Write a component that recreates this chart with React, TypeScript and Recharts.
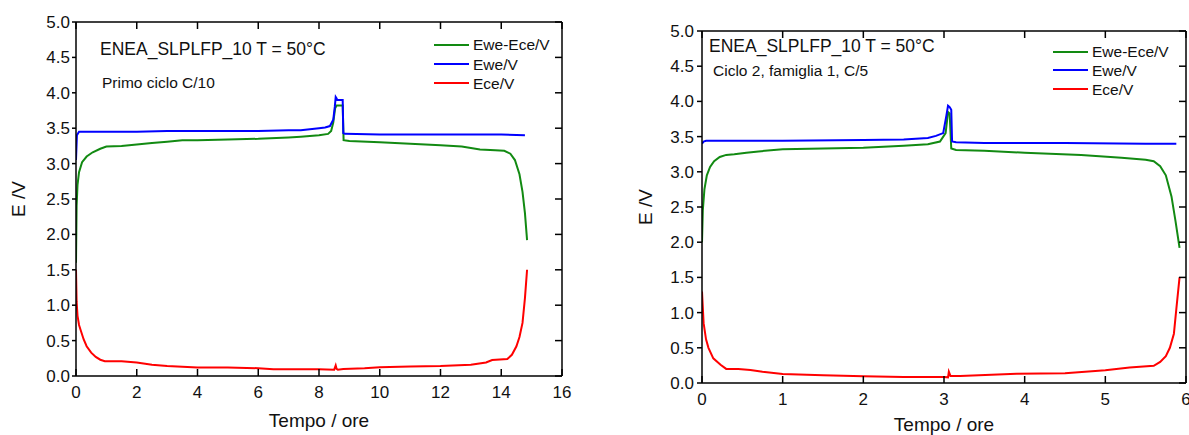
import { LineChart, Line, XAxis, YAxis, Legend } from 'recharts';

const FONT = '"Liberation Sans", Arial, Helvetica, sans-serif';
const GREEN = '#128a12';
const BLUE = '#0000ff';
const RED = '#ff0000';
const INK = '#111';

const yTicks = [0, 0.5, 1, 1.5, 2, 2.5, 3, 3.5, 4, 4.5, 5];
const c1Ticks = [0, 2, 4, 6, 8, 10, 12, 14, 16];
const c2Ticks = [0, 1, 2, 3, 4, 5, 6];
const legendOrder = ['Ewe-Ece/V', 'Ewe/V', 'Ece/V'];

// Primo ciclo C/10
const c1EweT = [0, 0.03, 0.1, 1, 2, 3, 4, 5, 6, 7, 7.4, 8.0, 8.2, 8.36, 8.47, 8.52, 8.55, 8.58, 8.6, 8.78, 8.8, 8.85, 10, 12, 14, 14.78];
const c1EweV = [3.05, 3.4, 3.45, 3.45, 3.45, 3.46, 3.46, 3.46, 3.46, 3.47, 3.47, 3.5, 3.51, 3.53, 3.62, 3.8, 3.94, 3.92, 3.9, 3.9, 3.43, 3.42, 3.41, 3.41, 3.41, 3.4];

const c1DiffT = [0, 0.02, 0.05, 0.1, 0.2, 0.35, 0.55, 0.8, 1.0, 1.5, 2.0, 2.5, 3.0, 3.5, 4, 5, 6, 7, 7.4, 8.0, 8.3, 8.4, 8.47, 8.53, 8.58, 8.78, 8.81, 9, 10, 11, 12, 12.7, 13.3, 13.8, 14.1, 14.3, 14.45, 14.6, 14.7, 14.78, 14.85];
const c1DiffV = [1.6, 2.4, 2.7, 2.88, 3.02, 3.1, 3.16, 3.21, 3.24, 3.25, 3.27, 3.29, 3.31, 3.33, 3.33, 3.34, 3.35, 3.37, 3.38, 3.4, 3.42, 3.46, 3.58, 3.78, 3.82, 3.82, 3.33, 3.32, 3.3, 3.28, 3.26, 3.24, 3.2, 3.19, 3.18, 3.14, 3.05, 2.85, 2.6, 2.3, 1.92];

const c1EceT = [0, 0.02, 0.05, 0.1, 0.16, 0.25, 0.35, 0.5, 0.65, 0.8, 0.95, 1.5, 2.0, 2.5, 3.0, 4.0, 5.0, 6.0, 6.5, 8.0, 8.5, 8.55, 8.58, 8.62, 8.8, 9.5, 10, 11, 12, 13.0, 13.5, 13.7, 14.2, 14.35, 14.5, 14.6, 14.7, 14.78, 14.85];
const c1EceV = [1.5, 1.05, 0.85, 0.72, 0.64, 0.52, 0.42, 0.33, 0.27, 0.23, 0.21, 0.21, 0.19, 0.16, 0.14, 0.12, 0.12, 0.11, 0.095, 0.095, 0.09, 0.15, 0.1, 0.09, 0.1, 0.11, 0.125, 0.135, 0.14, 0.16, 0.19, 0.225, 0.24, 0.3, 0.42, 0.55, 0.75, 1.1, 1.5];

// Ciclo 2, famiglia 1, C/5
const c2EweT = [0, 0.02, 0.05, 1, 2, 2.5, 2.8, 2.9, 2.99, 3.03, 3.05, 3.07, 3.09, 3.1, 3.15, 3.5, 4.5, 5.5, 5.88];
const c2EweV = [3.4, 3.43, 3.44, 3.44, 3.45, 3.46, 3.48, 3.51, 3.55, 3.8, 3.94, 3.92, 3.88, 3.43, 3.42, 3.41, 3.41, 3.4, 3.4];

const c2DiffT = [0, 0.01, 0.03, 0.06, 0.1, 0.15, 0.22, 0.3, 0.4, 0.55, 0.7, 1.0, 1.5, 2.0, 2.5, 2.8, 2.95, 3.02, 3.05, 3.07, 3.09, 3.15, 3.5, 4.0, 4.7, 5.2, 5.5, 5.6, 5.68, 5.75, 5.82, 5.87, 5.92];
const c2DiffV = [2.0, 2.45, 2.75, 2.95, 3.07, 3.15, 3.21, 3.24, 3.25, 3.27, 3.29, 3.32, 3.33, 3.34, 3.37, 3.39, 3.43, 3.55, 3.85, 3.83, 3.33, 3.31, 3.3, 3.27, 3.24, 3.2, 3.17, 3.15, 3.08, 2.95, 2.65, 2.3, 1.92];

const c2EceT = [0, 0.02, 0.05, 0.08, 0.14, 0.23, 0.3, 0.45, 0.6, 0.75, 1.0, 1.5, 2.0, 2.5, 3.0, 3.05, 3.06, 3.08, 3.2, 3.9, 4.5, 5.0, 5.3, 5.6, 5.68, 5.75, 5.8, 5.85, 5.88, 5.92];
const c2EceV = [1.3, 0.85, 0.62, 0.5, 0.35, 0.26, 0.2, 0.198, 0.185, 0.16, 0.127, 0.11, 0.095, 0.085, 0.085, 0.08, 0.16, 0.1, 0.1, 0.13, 0.14, 0.18, 0.22, 0.245, 0.3, 0.38, 0.5, 0.7, 1.05, 1.5];

const zip = (t: number[], v: number[]) => t.map((x, i) => ({ t: x, v: v[i] }));

type Pt = { t: number; v: number };

interface ChartProps {
  width: number;
  margin: { top: number; right: number; left: number; bottom: number };
  yAxisW: number;
  xAxisH: number;
  xMax: number;
  xTicks: number[];
  diff: Pt[];
  ewe: Pt[];
  ece: Pt[];
  legendLeft: number;
  legendTop: number;
  rowH: number;
  xLabelOffset: number;
  yLabelOffset: number;
  yTickSize: number;
  yTickMargin: number;
}

const axisLine = { stroke: '#000', strokeWidth: 1.5 };
// mirror axes on top / right: tick marks only
const blank = () => '';

function LegendRows({ payload, rowH }: { payload?: any[]; rowH: number }) {
  const items = [...(payload || [])].sort((a, b) => legendOrder.indexOf(a.value) - legendOrder.indexOf(b.value));
  return (
    <div style={{ fontFamily: FONT, fontSize: 15.5, color: INK }}>
      {items.map((e) => (
        <div key={e.value} style={{ display: 'flex', alignItems: 'center', height: rowH, lineHeight: 1 }}>
          <span style={{ display: 'inline-block', width: 35, height: 2, background: e.color, marginRight: 4 }} />
          <span>{e.value}</span>
        </div>
      ))}
    </div>
  );
}

function CycleChart(p: ChartProps) {
  return (
    <LineChart width={p.width} height={435} margin={p.margin}>
      <XAxis
        xAxisId="b"
        type="number"
        dataKey="t"
        domain={[0, p.xMax]}
        ticks={p.xTicks}
        interval={0}
        allowDataOverflow
        height={p.xAxisH}
        tickSize={-7}
        tickMargin={17}
        axisLine={axisLine}
        tickLine={axisLine}
        tick={{ fontSize: 17, fill: INK }}
        label={{ value: 'Tempo / ore', position: 'insideBottom', offset: p.xLabelOffset, fontSize: 19, fill: INK }}
      />
      <XAxis
        xAxisId="t"
        orientation="top"
        type="number"
        dataKey="t"
        domain={[0, p.xMax]}
        ticks={p.xTicks}
        interval={0}
        allowDataOverflow
        height={20}
        tickSize={-7}
        axisLine={axisLine}
        tickLine={axisLine}
        tickFormatter={blank}
      />
      <YAxis
        yAxisId="l"
        type="number"
        domain={[0, 5]}
        ticks={yTicks}
        interval={0}
        allowDataOverflow
        width={p.yAxisW}
        tickSize={p.yTickSize}
        tickMargin={p.yTickMargin}
        axisLine={axisLine}
        tickLine={axisLine}
        tick={{ fontSize: 17, fill: INK }}
        tickFormatter={(v: number) => v.toFixed(1)}
        label={{
          value: 'E /V',
          angle: -90,
          position: 'insideLeft',
          offset: p.yLabelOffset,
          fontSize: 19,
          fill: INK,
          style: { textAnchor: 'middle' },
        }}
      />
      <YAxis
        yAxisId="r"
        orientation="right"
        type="number"
        domain={[0, 5]}
        ticks={yTicks}
        interval={0}
        allowDataOverflow
        width={20}
        tickSize={-7}
        axisLine={axisLine}
        tickLine={axisLine}
        tickFormatter={blank}
      />
      <Legend
        layout="vertical"
        align="center"
        verticalAlign="middle"
        wrapperStyle={{ left: p.legendLeft, top: p.legendTop, width: 'auto', height: 'auto' }}
        content={(props: any) => <LegendRows payload={props.payload} rowH={p.rowH} />}
      />
      <Line name="Ewe-Ece/V" data={p.diff} dataKey="v" xAxisId="b" yAxisId="l" type="linear" stroke={GREEN} strokeWidth={2} dot={false} isAnimationActive={false} />
      <Line name="Ewe/V" data={p.ewe} dataKey="v" xAxisId="b" yAxisId="l" type="linear" stroke={BLUE} strokeWidth={2} dot={false} isAnimationActive={false} />
      <Line name="Ece/V" data={p.ece} dataKey="v" xAxisId="t" yAxisId="r" type="linear" stroke={RED} strokeWidth={2} dot={false} isAnimationActive={false} />
    </LineChart>
  );
}

const note = (left: number, top: number, size: number): React.CSSProperties => ({
  position: 'absolute',
  left,
  top,
  fontSize: size,
  lineHeight: 1,
  whiteSpace: 'nowrap',
  color: INK,
});

export default function App() {
  return (
    <div
      style={{
        position: 'absolute',
        left: 0,
        top: 0,
        width: 1189,
        height: 435,
        overflow: 'hidden',
        background: '#fff',
        fontFamily: FONT,
      }}
    >
      <div style={{ position: 'absolute', left: 0, top: 0 }}>
        <CycleChart
          width={600}
          margin={{ top: 2, right: 18, left: 0, bottom: 0 }}
          yAxisW={76}
          xAxisH={59}
          xMax={16}
          xTicks={c1Ticks}
          diff={zip(c1DiffT, c1DiffV)}
          ewe={zip(c1EweT, c1EweV)}
          ece={zip(c1EceT, c1EceV)}
          legendLeft={434}
          legendTop={35.5}
          rowH={19.2}
          xLabelOffset={8}
          yLabelOffset={18}
          yTickSize={4}
          yTickMargin={2}
        />
        <div style={note(100, 40.5, 17.5)}>ENEA_SLPLFP_10 T = 50°C</div>
        <div style={note(102, 75, 15.5)}>Primo ciclo C/10</div>
      </div>
      <div style={{ position: 'absolute', left: 600, top: 0 }}>
        <CycleChart
          width={620}
          margin={{ top: 11, right: 14, left: 0, bottom: 0 }}
          yAxisW={102}
          xAxisH={52}
          xMax={6}
          xTicks={c2Ticks}
          diff={zip(c2DiffT, c2DiffV)}
          ewe={zip(c2EweT, c2EweV)}
          ece={zip(c2EceT, c2EceV)}
          legendLeft={453}
          legendTop={42.3}
          rowH={18.8}
          xLabelOffset={4}
          yLabelOffset={45}
          yTickSize={5}
          yTickMargin={3}
        />
        <div style={note(109, 37.8, 17.5)}>ENEA_SLPLFP_10 T = 50°C</div>
        <div style={note(113, 63.2, 15.5)}>Ciclo 2, famiglia 1, C/5</div>
      </div>
    </div>
  );
}
